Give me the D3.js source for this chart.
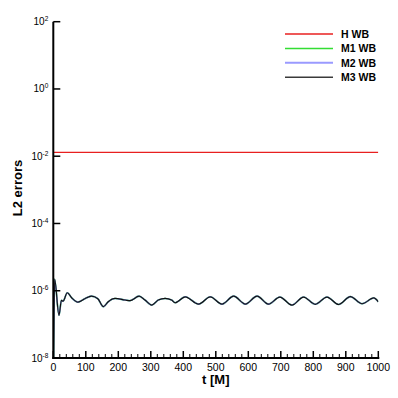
<!DOCTYPE html>
<html>
<head>
<meta charset="utf-8">
<script src="https://cdn.jsdelivr.net/npm/d3@7"></script>
<style>
  body { margin: 0; background: #fff; }
  svg { display: block; font-family: 'Liberation Sans', Arial, sans-serif; }
</style>
</head>
<body>
<div id="chart"></div>
<script>
// time samples (t in M)
const tSamples = [0, 4, 17.5, 25, 30, 43, 57, 76, 97, 117, 137, 154, 169, 190, 221, 236, 264, 282, 303, 323,
  344, 364, 375, 406, 447, 483, 519, 555, 591, 627, 662, 697, 734, 770, 806, 842, 878, 914, 950, 986, 1000];
// M1/M2/M3 WB lie on top of each other
const mwbErrors = [1e-9, 2.2e-6, 1.86e-7, 5.2e-7, 4.9e-7, 8.7e-7, 6.1e-7, 4.6e-7, 5.8e-7, 6.9e-7, 5.8e-7, 3.35e-7,
  4.7e-7, 5.9e-7, 5.3e-7, 5.05e-7, 6.9e-7, 5.3e-7, 3.75e-7, 5.3e-7, 5.9e-7, 5.3e-7, 4.4e-7, 6.6e-7, 4.0e-7,
  6.6e-7, 4.0e-7, 6.9e-7, 4.0e-7, 6.9e-7, 4.0e-7, 6.5e-7, 3.75e-7, 6.5e-7, 3.95e-7, 6.5e-7, 3.9e-7, 6.7e-7,
  4.1e-7, 6.1e-7, 4.7e-7];
const hwbT = [0, 1000];
const hwbErrors = [1.3e-2, 1.3e-2];

const seriesNames = ['H WB', 'M1 WB', 'M2 WB', 'M3 WB'];
const seriesColors = ['#e82020', '#33dd33', '#9a9aff', '#3a3a3a'];
const seriesWidths = [1.2, 1.6, 1.6, 1.2];

const xTicks = [0, 100, 200, 300, 400, 500, 600, 700, 800, 900, 1000];
const yExponents = [2, 0, -2, -4, -6, -8];

const W = 398, H = 398;
const svg = d3.select('#chart').append('svg').attr('width', W).attr('height', H);

const x = d3.scaleLinear().domain([0, 1000]).range([53.3, 378.3]);
const y = d3.scaleLog().domain([1e-8, 1e2]).range([358, 21.7]);

svg.append('clipPath').attr('id', 'plot').append('rect')
  .attr('x', x(0)).attr('y', y(1e2)).attr('width', x(1000) - x(0)).attr('height', y(1e-8) - y(1e2));

const line = d3.line().x(d => x(d[0])).y(d => y(d[1])).curve(d3.curveMonotoneX);
const g = svg.append('g').attr('clip-path', 'url(#plot)');

const seriesData = [
  d3.zip(hwbT, hwbErrors),
  d3.zip(tSamples, mwbErrors),
  d3.zip(tSamples, mwbErrors),
  d3.zip(tSamples, mwbErrors),
];
seriesData.forEach((d, i) => {
  g.append('path').datum(d).attr('d', line).attr('fill', 'none')
    .attr('stroke', i === 3 ? '#111' : seriesColors[i]).attr('stroke-width', seriesWidths[i]);
});

// axes: ticks point inward
const xAxis = svg.append('g').attr('transform', `translate(0,${y(1e-8)})`);
xAxis.append('line').attr('x1', x(0) - 1).attr('x2', x(1000) + 1).attr('stroke', '#000').attr('stroke-width', 2);
xAxis.selectAll('.minor').data(d3.range(20, 1000, 20).filter(v => v % 100)).enter().append('line')
  .attr('x1', d => x(d)).attr('x2', d => x(d)).attr('y1', 0).attr('y2', -4)
  .attr('stroke', '#000').attr('stroke-width', 1);
xAxis.selectAll('.major').data(xTicks).enter().append('line')
  .attr('x1', d => x(d)).attr('x2', d => x(d)).attr('y1', 0).attr('y2', -7)
  .attr('stroke', '#000').attr('stroke-width', 1.5);
xAxis.selectAll('text').data(xTicks).enter().append('text')
  .attr('x', d => x(d)).attr('y', 13).attr('text-anchor', 'middle')
  .attr('font-size', 10.5).text(d => d);

const yAxis = svg.append('g').attr('transform', `translate(${x(0)},0)`);
yAxis.append('line').attr('y1', y(1e2)).attr('y2', y(1e-8) + 1).attr('stroke', '#000').attr('stroke-width', 2);
yAxis.selectAll('.major').data(yExponents).enter().append('line')
  .attr('y1', d => y(Math.pow(10, d))).attr('y2', d => y(Math.pow(10, d)))
  .attr('x1', 0).attr('x2', 7).attr('stroke', '#000').attr('stroke-width', 1.5);
const yLab = yAxis.selectAll('text').data(yExponents).enter().append('text')
  .attr('x', -5).attr('y', d => y(Math.pow(10, d)) + 3.5).attr('text-anchor', 'end');
yLab.append('tspan').attr('font-size', 10).text('10');
yLab.append('tspan').attr('font-size', 6.5).attr('dy', -4).text(d => d);

svg.append('text').attr('x', (x(0) + x(1000)) / 2).attr('y', 384).attr('text-anchor', 'middle')
  .attr('font-size', 13).attr('font-weight', 'bold').text('t [M]');
svg.append('text').attr('transform', 'translate(22,188) rotate(-90)').attr('text-anchor', 'middle')
  .attr('font-size', 13).attr('font-weight', 'bold').text('L2 errors');

const legend = svg.append('g');
seriesNames.forEach((name, i) => {
  const ly = 34 + i * 14.4;
  legend.append('line').attr('x1', 285).attr('x2', 333).attr('y1', ly).attr('y2', ly)
    .attr('stroke', seriesColors[i]).attr('stroke-width', i === 2 ? 2 : 1.5);
  legend.append('text').attr('x', 341).attr('y', ly + 4).attr('font-size', 10.5)
    .attr('font-weight', 'bold').text(name);
});
</script>
</body>
</html>
